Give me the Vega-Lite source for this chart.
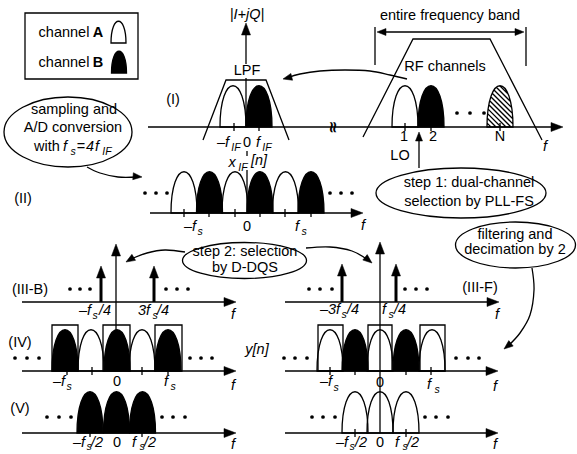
{
"$schema":"https://vega.github.io/schema/vega-lite/v6.json",
"width":577,"height":454,"padding":0,"autosize":{"type":"none"},
"background":"white",
"config":{"view":{"stroke":null}},
"datasets":{
"rules":[
{"x":148,"y":127,"x2":556,"y2":127},
{"x":246,"y":30,"x2":246,"y2":64},
{"x":246,"y":78,"x2":246,"y2":127},
{"x":247,"y":151,"x2":247,"y2":156},
{"x":247,"y":170,"x2":247,"y2":213},
{"x":150,"y":213,"x2":357,"y2":213},
{"x":22,"y":302,"x2":230,"y2":302},
{"x":116,"y":250,"x2":116,"y2":371},
{"x":285,"y":302,"x2":493,"y2":302},
{"x":380,"y":248,"x2":380,"y2":433},
{"x":22,"y":371,"x2":230,"y2":371},
{"x":285,"y":371,"x2":492,"y2":371},
{"x":22,"y":433,"x2":230,"y2":433},
{"x":285,"y":433,"x2":492,"y2":433},
{"x":380,"y":32,"x2":521,"y2":32},
{"x":375,"y":27,"x2":375,"y2":65},
{"x":526,"y":27,"x2":526,"y2":66},
{"x":419,"y":140,"x2":419,"y2":168},
{"x":234,"y":123,"x2":234,"y2":131},
{"x":259,"y":123,"x2":259,"y2":131},
{"x":405,"y":123,"x2":405,"y2":131},
{"x":431,"y":123,"x2":431,"y2":131},
{"x":500,"y":123,"x2":500,"y2":131},
{"x":184,"y":209,"x2":184,"y2":217},
{"x":209,"y":209,"x2":209,"y2":217},
{"x":235,"y":209,"x2":235,"y2":217},
{"x":260,"y":209,"x2":260,"y2":217},
{"x":285,"y":209,"x2":285,"y2":217},
{"x":311,"y":209,"x2":311,"y2":217},
{"x":67,"y":367,"x2":67,"y2":375},
{"x":92,"y":367,"x2":92,"y2":375},
{"x":142,"y":367,"x2":142,"y2":375},
{"x":168,"y":367,"x2":168,"y2":375},
{"x":330,"y":367,"x2":330,"y2":375},
{"x":355,"y":367,"x2":355,"y2":375},
{"x":406,"y":367,"x2":406,"y2":375},
{"x":431,"y":367,"x2":431,"y2":375},
{"x":90,"y":429,"x2":90,"y2":437},
{"x":142,"y":429,"x2":142,"y2":437},
{"x":355,"y":429,"x2":355,"y2":437},
{"x":406,"y":429,"x2":406,"y2":437}
],
"impulses":[
{"x":101,"y":302,"x2":101,"y2":276},
{"x":154,"y":302,"x2":154,"y2":276},
{"x":342,"y":302,"x2":342,"y2":274},
{"x":396,"y":302,"x2":396,"y2":274}
],
"boxes":[
{"x":25,"y":13,"x2":138,"y2":79},
{"x":52,"y":325,"x2":78,"y2":371},
{"x":103,"y":325,"x2":130,"y2":371},
{"x":155,"y":325,"x2":182,"y2":371},
{"x":318,"y":325,"x2":343,"y2":371},
{"x":368,"y":325,"x2":392,"y2":371},
{"x":420,"y":325,"x2":445,"y2":371}
],
"polys":[
{"p":"lpf","i":0,"x":203,"y":140},{"p":"lpf","i":1,"x":226,"y":80},{"p":"lpf","i":2,"x":266,"y":80},{"p":"lpf","i":3,"x":289,"y":140},
{"p":"band","i":0,"x":363,"y":137},{"p":"band","i":1,"x":413,"y":39},{"p":"band","i":2,"x":490,"y":39},{"p":"band","i":3,"x":542,"y":140}
],
"curves":[
{"p":"c1","i":0,"x":407,"y":79},{"p":"c1","i":1,"x":390,"y":75},{"p":"c1","i":2,"x":370,"y":71},{"p":"c1","i":3,"x":345,"y":70},{"p":"c1","i":4,"x":320,"y":71},{"p":"c1","i":5,"x":300,"y":74},{"p":"c1","i":6,"x":287,"y":78},
{"p":"c2","i":0,"x":87,"y":167},{"p":"c2","i":1,"x":100,"y":173},{"p":"c2","i":2,"x":118,"y":177},{"p":"c2","i":3,"x":137,"y":177},
{"p":"c3","i":0,"x":185,"y":252},{"p":"c3","i":1,"x":165,"y":250},{"p":"c3","i":2,"x":147,"y":253},{"p":"c3","i":3,"x":131,"y":259},
{"p":"c4","i":0,"x":306,"y":248},{"p":"c4","i":1,"x":330,"y":247},{"p":"c4","i":2,"x":352,"y":251},{"p":"c4","i":3,"x":368,"y":260},
{"p":"c5","i":0,"x":532,"y":268},{"p":"c5","i":1,"x":534,"y":290},{"p":"c5","i":2,"x":530,"y":315},{"p":"c5","i":3,"x":520,"y":333},{"p":"c5","i":4,"x":508,"y":346}
],
"humps":[
{"x":118.5,"y":43,"ch":"A","s":"small"},{"x":119,"y":73,"ch":"B","s":"small"},
{"x":233,"y":127,"ch":"A","s":"h"},{"x":259,"y":127,"ch":"B","s":"h"},
{"x":405,"y":127,"ch":"A","s":"h"},{"x":431,"y":127,"ch":"B","s":"h"},{"x":500,"y":127,"ch":"N","s":"hatch"},
{"x":184,"y":213,"ch":"A","s":"h"},{"x":209.5,"y":213,"ch":"B","s":"h"},{"x":235,"y":213,"ch":"A","s":"h"},{"x":260,"y":213,"ch":"B","s":"h"},{"x":285.5,"y":213,"ch":"A","s":"h"},{"x":311,"y":213,"ch":"B","s":"h"},
{"x":65,"y":371,"ch":"B","s":"h"},{"x":91,"y":371,"ch":"A","s":"h"},{"x":117,"y":371,"ch":"B","s":"h"},{"x":142,"y":371,"ch":"A","s":"h"},{"x":168,"y":371,"ch":"B","s":"h"},
{"x":330,"y":371,"ch":"A","s":"h"},{"x":355,"y":371,"ch":"B","s":"h"},{"x":380,"y":371,"ch":"A","s":"h"},{"x":406,"y":371,"ch":"B","s":"h"},{"x":432,"y":371,"ch":"A","s":"h"},
{"x":90,"y":433,"ch":"B","s":"h"},{"x":116.5,"y":433,"ch":"B","s":"h"},{"x":142.5,"y":433,"ch":"B","s":"h"},
{"x":355,"y":433,"ch":"A","s":"h"},{"x":380,"y":433,"ch":"A","s":"h"},{"x":406,"y":433,"ch":"A","s":"h"}
],
"ellipses":[
{"x":68,"y":132,"e":"e1"},{"x":461,"y":193,"e":"e2"},{"x":244.5,"y":260.5,"e":"e3"},{"x":515.5,"y":245,"e":"e4"}
],
"heads":[
{"x":563,"y":127,"a":90,"k":"big"},{"x":246,"y":23,"a":0,"k":"big"},{"x":363,"y":213,"a":90,"k":"big"},
{"x":236,"y":302,"a":90,"k":"big"},{"x":116,"y":244,"a":0,"k":"big"},{"x":499,"y":302,"a":90,"k":"big"},{"x":380,"y":242,"a":0,"k":"big"},
{"x":236,"y":371,"a":90,"k":"big"},{"x":498,"y":371,"a":90,"k":"big"},{"x":236,"y":433,"a":90,"k":"big"},{"x":498,"y":433,"a":90,"k":"big"},
{"x":101,"y":266,"a":0,"k":"big"},{"x":154,"y":266,"a":0,"k":"big"},{"x":342,"y":264,"a":0,"k":"big"},{"x":396,"y":264,"a":0,"k":"big"},
{"x":377,"y":32,"a":270,"k":"small"},{"x":524,"y":32,"a":90,"k":"small"},{"x":419,"y":132,"a":0,"k":"small"},
{"x":283,"y":79,"a":256,"k":"small"},{"x":142,"y":177,"a":95,"k":"small"},{"x":126,"y":262,"a":239,"k":"small"},
{"x":372,"y":263,"a":129,"k":"small"},{"x":504,"y":349,"a":231,"k":"small"}
],
"dots":[
{"x":457,"y":113},{"x":470,"y":113},{"x":484,"y":113},
{"x":145,"y":193},{"x":156,"y":193},{"x":167,"y":193},{"x":330,"y":193},{"x":341,"y":193},{"x":352,"y":193},
{"x":70,"y":289},{"x":80,"y":289},{"x":90,"y":289},{"x":166,"y":289},{"x":177,"y":289},{"x":188,"y":289},
{"x":309,"y":289},{"x":320,"y":289},{"x":332,"y":289},{"x":405,"y":289},{"x":416,"y":289},{"x":427,"y":289},
{"x":15,"y":358},{"x":27,"y":358},{"x":39,"y":358},{"x":190,"y":358},{"x":201,"y":358},{"x":212,"y":358},
{"x":284,"y":358},{"x":295,"y":358},{"x":307,"y":358},{"x":456,"y":358},{"x":468,"y":358},{"x":479,"y":358},
{"x":47,"y":417},{"x":59,"y":417},{"x":71,"y":417},{"x":162,"y":417},{"x":173,"y":417},{"x":185,"y":417},
{"x":312,"y":417},{"x":323,"y":417},{"x":335,"y":417},{"x":425,"y":417},{"x":436,"y":417},{"x":448,"y":417}
],
"normal":[
{"x":64,"y":33,"t":"channel"},{"x":64,"y":63,"t":"channel"},
{"x":74,"y":110,"t":"sampling and"},{"x":73,"y":128,"t":"A/D conversion"},{"x":47,"y":147,"t":"with"},{"x":81,"y":147,"t":"="},
{"x":173,"y":100,"t":"(I)"},{"x":23,"y":199,"t":"(II)"},{"x":30,"y":290,"t":"(III-B)"},{"x":480,"y":288,"t":"(III-F)"},{"x":20,"y":343,"t":"(IV)"},{"x":20,"y":409,"t":"(V)"},
{"x":247,"y":71,"t":"LPF"},{"x":450,"y":16,"t":"entire frequency band"},{"x":445,"y":67,"t":"RF channels"},
{"x":404,"y":137,"t":"1"},{"x":433,"y":137,"t":"2"},{"x":500,"y":137,"t":"N"},{"x":400,"y":156,"t":"LO"},
{"x":469,"y":183,"t":"step 1: dual-channel"},{"x":469,"y":202,"t":"selection by PLL-FS"},
{"x":515,"y":235,"t":"filtering and"},{"x":515,"y":250,"t":"decimation by 2"},
{"x":245,"y":252,"t":"step 2: selection"},{"x":245,"y":268,"t":"by D-DQS"},
{"x":247,"y":143,"t":"0"},{"x":247,"y":227,"t":"0"},{"x":117,"y":382,"t":"0"},{"x":380,"y":383,"t":"0"},{"x":117,"y":443,"t":"0"},{"x":380,"y":443,"t":"0"}
],
"bold":[{"x":98,"y":33,"t":"A"},{"x":98,"y":63,"t":"B"}],
"ital":[
{"x":247,"y":15,"t":"|I+jQ|"},
{"x":545,"y":147,"t":"f"},{"x":363,"y":226,"t":"f"},{"x":233,"y":315,"t":"f"},{"x":497,"y":315,"t":"f"},{"x":233,"y":386,"t":"f"},{"x":495,"y":387,"t":"f"},{"x":233,"y":445,"t":"f"},{"x":495,"y":445,"t":"f"},
{"x":223,"y":143,"t":"–f"},{"x":258,"y":143,"t":"f"},
{"x":65,"y":147,"t":"f"},{"x":90,"y":147,"t":"4"},{"x":97,"y":147,"t":"f"},
{"x":232,"y":163,"t":"x"},{"x":259,"y":161,"t":"[n]"},
{"x":190,"y":227,"t":"–f"},{"x":297,"y":227,"t":"f"},
{"x":85,"y":311,"t":"–f"},{"x":105,"y":311,"t":"/4"},{"x":144,"y":311,"t":"3f"},{"x":163,"y":311,"t":"/4"},
{"x":330,"y":310,"t":"–3f"},{"x":353,"y":310,"t":"/4"},{"x":384,"y":310,"t":"f"},{"x":400,"y":310,"t":"/4"},
{"x":59,"y":382,"t":"–f"},{"x":166,"y":382,"t":"f"},
{"x":326,"y":382,"t":"–f"},{"x":429,"y":385,"t":"f"},
{"x":79,"y":443,"t":"–f"},{"x":97,"y":443,"t":"/2"},{"x":134,"y":443,"t":"f"},{"x":150,"y":443,"t":"/2"},
{"x":342,"y":443,"t":"–f"},{"x":361,"y":443,"t":"/2"},{"x":397,"y":443,"t":"f"},{"x":413,"y":443,"t":"/2"},
{"x":257,"y":350,"t":"y[n]"}
],
"sub":[
{"x":236,"y":148,"t":"IF"},{"x":267,"y":148,"t":"IF"},
{"x":73,"y":152,"t":"s"},{"x":107,"y":152,"t":"IF"},
{"x":243,"y":168,"t":"IF"},
{"x":200,"y":232,"t":"s"},{"x":304,"y":232,"t":"s"},
{"x":95,"y":316,"t":"s"},{"x":155,"y":316,"t":"s"},
{"x":344,"y":315,"t":"s"},{"x":391,"y":315,"t":"s"},
{"x":69,"y":387,"t":"s"},{"x":173,"y":387,"t":"s"},
{"x":336,"y":388,"t":"s"},{"x":437,"y":390,"t":"s"},
{"x":89,"y":447,"t":"s"},{"x":142,"y":447,"t":"s"},
{"x":352,"y":447,"t":"s"},{"x":405,"y":447,"t":"s"}
],
"brk":[{"x":333,"y":127,"t":"≈"}]
},
"encoding":{
"x":{"field":"x","type":"quantitative","scale":{"domain":[0,577],"nice":false,"zero":false},"axis":null},
"y":{"field":"y","type":"quantitative","scale":{"domain":[0,454],"nice":false,"zero":false,"reverse":true},"axis":null}
},
"layer":[
{"data":{"name":"rules"},"mark":{"type":"rule","stroke":"black","strokeWidth":1.3},"encoding":{"x2":{"field":"x2"},"y2":{"field":"y2"}}},
{"data":{"name":"impulses"},"mark":{"type":"rule","stroke":"black","strokeWidth":3},"encoding":{"x2":{"field":"x2"},"y2":{"field":"y2"}}},
{"data":{"name":"boxes"},"mark":{"type":"rect","filled":false,"fill":null,"stroke":"black","strokeWidth":1.3},"encoding":{"x2":{"field":"x2"},"y2":{"field":"y2"}}},
{"data":{"name":"polys"},"mark":{"type":"line","stroke":"black","strokeWidth":1.3,"interpolate":"linear"},"encoding":{"detail":{"field":"p"},"order":{"field":"i","type":"quantitative"}}},
{"data":{"name":"curves"},"mark":{"type":"line","stroke":"black","strokeWidth":1.3,"interpolate":"cardinal"},"encoding":{"detail":{"field":"p"},"order":{"field":"i","type":"quantitative"}}},
{"data":{"name":"humps"},"mark":{"type":"point","filled":true,"stroke":"black","strokeWidth":1.3,"size":4,"opacity":1},
 "encoding":{
 "shape":{"field":"s","type":"nominal","legend":null,"scale":{"domain":["h","small","hatch"],"range":[
 "M-13,0 C-13,-55 13,-55 13,0 Z",
 "M-7.5,0 C-7.5,-29 7.5,-29 7.5,0 Z",
 "M-13,0 C-13,-55 13,-55 13,0 Z M-9,0 L-12.9,-3.9 M-4,0 L-12.7,-8.7 M1,0 L-12.4,-13.4 M6,0 L-11.9,-17.9 M11,0 L-11.2,-22.2 M12.9,-3.1 L-10.3,-26.3 M12.8,-8.2 L-9.2,-30.2 M12.4,-13.6 L-7.8,-33.8 M11.7,-19.4 L-6,-37 M10.5,-25.5 L-3.7,-39.7 M8.1,-32.9 L-0.2,-41.2"]}},
 "fill":{"field":"ch","type":"nominal","legend":null,"scale":{"domain":["A","B","N"],"range":["transparent","black","transparent"]}}
 }},
{"data":{"name":"ellipses"},"mark":{"type":"point","filled":true,"fill":"white","stroke":"black","strokeWidth":1.3,"size":4,"opacity":1},
 "encoding":{"shape":{"field":"e","type":"nominal","legend":null,"scale":{"domain":["e1","e2","e3","e4"],"range":[
 "M-64,0 C-64,-19.3 -35.3,-35 0,-35 C35.3,-35 64,-19.3 64,0 C64,19.3 35.3,35 0,35 C-35.3,35 -64,19.3 -64,0 Z",
 "M-85,0 C-85,-13.8 -46.9,-25 0,-25 C46.9,-25 85,-13.8 85,0 C85,13.8 46.9,25 0,25 C-46.9,25 -85,13.8 -85,0 Z",
 "M-62,0 C-62,-9.9 -34.2,-18 0,-18 C34.2,-18 62,-9.9 62,0 C62,9.9 34.2,18 0,18 C-34.2,18 -62,9.9 -62,0 Z",
 "M-60,0 C-60,-12.7 -33.1,-23 0,-23 C33.1,-23 60,-12.7 60,0 C60,12.7 33.1,23 0,23 C-33.1,23 -60,12.7 -60,0 Z"]}}}},
{"data":{"name":"heads"},"mark":{"type":"point","filled":true,"fill":"black","stroke":"black","strokeWidth":0.5,"size":4,"opacity":1},
 "encoding":{"shape":{"field":"k","type":"nominal","legend":null,"scale":{"domain":["big","small"],"range":["M0,0 L-4.5,12 L4.5,12 Z","M0,0 L-3.5,9 L3.5,9 Z"]}},
 "angle":{"field":"a","type":"quantitative","legend":null,"scale":{"domain":[0,360],"range":[0,360]}}}},
{"data":{"name":"dots"},"mark":{"type":"point","shape":"circle","filled":true,"fill":"black","strokeWidth":0,"size":14,"opacity":1}},
{"data":{"name":"normal"},"mark":{"type":"text","font":"Liberation Sans","fontSize":14.5,"align":"center","baseline":"middle","fill":"black"},"encoding":{"text":{"field":"t"}}},
{"data":{"name":"bold"},"mark":{"type":"text","font":"Liberation Sans","fontSize":14.5,"fontWeight":"bold","align":"center","baseline":"middle","fill":"black"},"encoding":{"text":{"field":"t"}}},
{"data":{"name":"ital"},"mark":{"type":"text","font":"Liberation Sans","fontSize":14.5,"fontStyle":"italic","align":"center","baseline":"middle","fill":"black"},"encoding":{"text":{"field":"t"}}},
{"data":{"name":"sub"},"mark":{"type":"text","font":"Liberation Sans","fontSize":10.5,"fontStyle":"italic","align":"center","baseline":"middle","fill":"black"},"encoding":{"text":{"field":"t"}}},
{"data":{"name":"brk"},"mark":{"type":"text","font":"DejaVu Sans","fontSize":16,"fontWeight":"bold","angle":90,"align":"center","baseline":"middle","fill":"black"},"encoding":{"text":{"field":"t"}}}
],
"resolve":{"scale":{"shape":"independent","fill":"independent","angle":"independent"}}
}
